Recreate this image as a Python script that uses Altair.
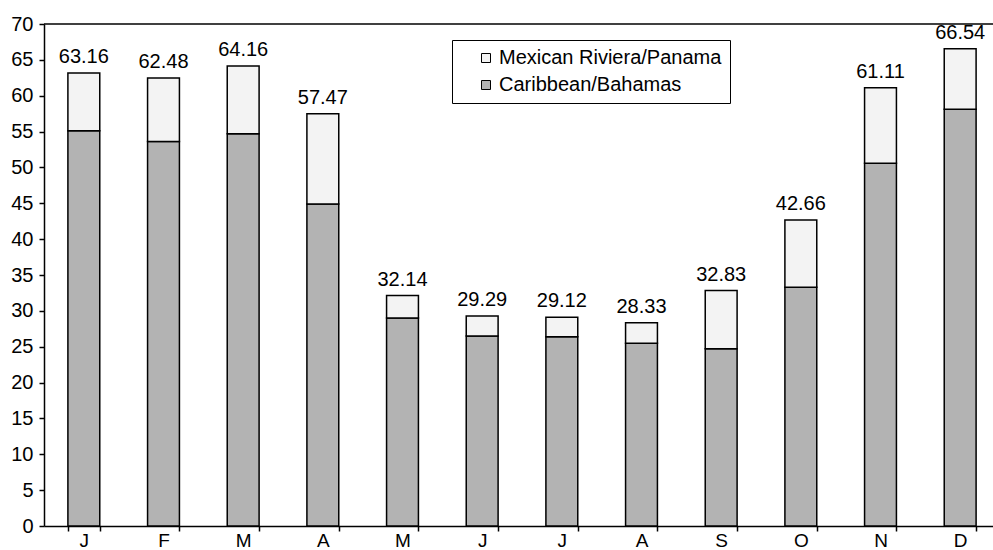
import altair as alt
import pandas as pd

# Monthly passenger figures by cruise region
months = ["Jan", "Feb", "Mar", "Apr", "May", "Jun",
          "Jul", "Aug", "Sep", "Oct", "Nov", "Dec"]
totals = [63.16, 62.48, 64.16, 57.47, 32.14, 29.29,
          29.12, 28.33, 32.83, 42.66, 61.11, 66.54]
caribbean = [55.1, 53.6, 54.7, 44.9, 29.0, 26.5,
             26.4, 25.5, 24.7, 33.3, 50.6, 58.1]
y_ticks = [0, 5, 10, 15, 20, 25, 30, 35, 40, 45, 50, 55, 60, 65, 70]

series_names = ["Mexican Riviera/Panama", "Caribbean/Bahamas"]
series_colors = ["#f3f3f3", "#b3b3b3"]

rows = []
for m, tot, car in zip(months, totals, caribbean):
    rows.append({"month": m, "series": "Caribbean/Bahamas", "value": car, "pos": 0})
    rows.append({"month": m, "series": "Mexican Riviera/Panama",
                 "value": round(tot - car, 2), "pos": 1})
stack_df = pd.DataFrame(rows)
total_df = pd.DataFrame({"month": months, "total": totals})

FONT = "Liberation Sans"

# Shared scales and axes so the layers merge into one set of axes
x_scale = alt.Scale(paddingInner=0.6, paddingOuter=0.3, range=[0, 956])
y_scale = alt.Scale(domain=[0, 70], nice=False)
x_axis = alt.Axis(labelExpr="substring(datum.label, 0, 1)", labelAngle=0,
                  tickBand="extent", labelPadding=0, labelFontSize=19)
y_axis = alt.Axis(values=y_ticks, labelPadding=6, labelOverlap=False)

bars = alt.Chart(stack_df).mark_bar(stroke="black", strokeWidth=1.5).encode(
    x=alt.X("month:N", sort=months, title=None, scale=x_scale, axis=x_axis),
    y=alt.Y("value:Q", stack="zero", scale=y_scale, title=None, axis=y_axis),
    color=alt.Color(
        "series:N",
        scale=alt.Scale(domain=series_names, range=series_colors),
        legend=alt.Legend(
            title=None, orient="none", legendX=408, legendY=16,
            padding=8, symbolOffset=16, symbolType="square", symbolSize=81,
            symbolStrokeColor="black", symbolStrokeWidth=1,
            labelFont=FONT, labelFontSize=20, labelColor="black",
            labelOffset=3, rowPadding=7, labelLimit=400,
            strokeColor="black", fillColor="white",
        ),
    ),
    order=alt.Order("pos:Q", sort="ascending"),
)

labels = alt.Chart(total_df).mark_text(
    font=FONT, fontSize=20, color="black", baseline="alphabetic", dy=-10
).encode(
    x=alt.X("month:N", sort=months, title=None, scale=x_scale, axis=x_axis),
    y=alt.Y("total:Q", scale=y_scale, title=None, axis=y_axis),
    text=alt.Text("total:Q", format=".2f"),
)

top_line = alt.Chart(total_df.head(1)).mark_rule(
    color="black", strokeWidth=1.5
).encode(y=alt.datum(70, scale=y_scale, title=None, axis=y_axis))

chart = alt.layer(bars, labels, top_line).properties(
    width=949,
    height=502,
    autosize=alt.AutoSizeParams(type="none"),
    padding={"left": 44, "top": 24, "right": 0, "bottom": 24},
    background="white",
).configure_view(stroke=None).configure_axis(
    grid=False,
    domainColor="black", domainWidth=1.5,
    tickColor="black", tickWidth=1.5, tickSize=5,
    labelFont=FONT, labelFontSize=20, labelColor="black",
)

chart.save("out.html", embed_options={"renderer": "svg", "actions": False})
